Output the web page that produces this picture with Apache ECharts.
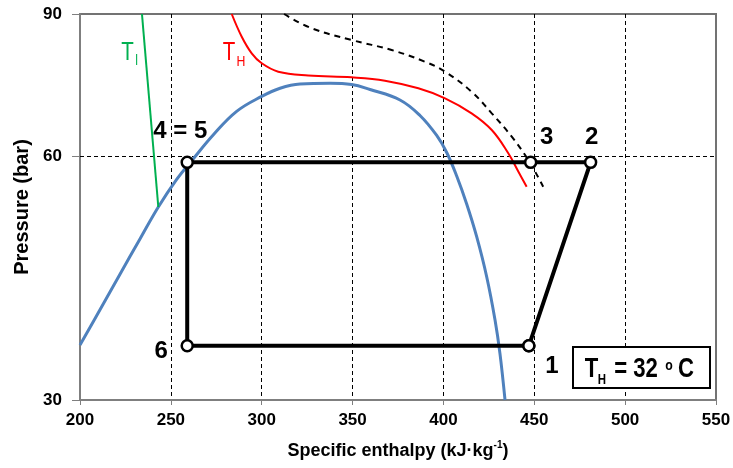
<!DOCTYPE html>
<html>
<head>
<meta charset="utf-8">
<script src="https://cdn.jsdelivr.net/npm/echarts@6/dist/echarts.min.js"></script>
<style>
html,body{margin:0;padding:0;background:#fff;}
#c{width:733px;height:468px;}
</style>
</head>
<body>
<div id="c"></div>
<script>
// ---- data ----
const xTicks = [200, 250, 300, 350, 400, 450, 500, 550];
const yTicks = [30, 60, 90];

// saturation dome (blue)
const domeH = [200, 211.0, 222.0, 233.0, 243.1, 253.2, 261.5, 273.4, 286.2, 300.0, 310.1, 321.1, 337.6, 349.5, 359.6, 376.1, 387.1, 396.3, 401.8, 407.3, 412.8, 418.3, 423.8, 428.4, 431.1, 433.9];
const domeP = [35.08, 38.78, 42.92, 47.44, 51.96, 56.21, 59.28, 63.82, 68.21, 71.18, 72.86, 73.74, 73.89, 73.64, 72.60, 70.46, 67.42, 63.69, 60.68, 56.75, 52.41, 47.75, 42.61, 37.67, 34.26, 30];

// T_H isotherm (red)
const redH = [283.5, 289.0, 294.5, 300.0, 309.1, 325.6, 349.5, 367.8, 386.2, 400.9, 415.5, 426.6, 435.7, 441.2, 445.8];
const redP = [90, 84.37, 80.47, 78.22, 76.37, 75.55, 75.15, 74.45, 72.84, 70.80, 67.84, 64.69, 60.54, 57.49, 55.05];

// dashed curve (black)
const dashH = [312.3, 327.5, 349.5, 371.5, 389.8, 400.9, 415.5, 426.6, 437.6, 446.7, 454.9];
const dashP = [90, 86.41, 83.58, 81.23, 78.57, 76.37, 72.14, 67.84, 63.47, 59.40, 55.05];

// T_l line (green)
const greenH = [234.1, 243.1];
const greenP = [90, 51.96];

// cycle 1 -> 2 -> 3 -> 4=5 -> 6 -> 1
const cycleH = [447, 481, 448, 259.0, 259.0, 447];
const cycleP = [35, 59, 59, 59, 35, 35];
const cycleNames = ['1', '2', '3', '4 = 5', '6', ''];

const gridLineP = 60;

// ---- styling ----
const SANS = "'Liberation Sans',Arial,sans-serif";
const labelOffsets = [[23, 21], [1, -25], [16, -25], [-7, -31], [-26, 6], [0, 0]];
const NX = 0.82; // horizontal condensing for annotation texts

const zip = (a, b) => a.map((v, i) => [v, b[i]]);

const chart = echarts.init(document.getElementById('c'), null, {renderer: 'canvas'});

function txt(x, y, text, font, fill, z) {
  return {type: 'text', x: x, y: y, scaleX: NX, z: z || 10,
    style: {text: text, font: font, fill: fill, align: 'center', verticalAlign: 'middle'}};
}

const option = {
  animation: false,
  backgroundColor: '#fff',
  grid: {left: 80, right: 17, top: 14, bottom: 68, show: true, borderColor: '#737373', borderWidth: 2, containLabel: false, outerBoundsMode: 'none'},
  xAxis: {
    type: 'value', min: xTicks[0], max: xTicks[xTicks.length - 1], interval: 50,
    name: '{a|Specific enthalpy (kJ\u00B7kg}{b|-1}{a|)}',
    nameLocation: 'middle', nameGap: 40,
    nameTextStyle: {rich: {
      a: {fontFamily: SANS, fontWeight: 'bold', fontSize: 18, color: '#000', lineHeight: 22},
      b: {fontFamily: SANS, fontWeight: 'bold', fontSize: 10, color: '#000', verticalAlign: 'top', lineHeight: 12}
    }},
    axisLine: {show: true, lineStyle: {color: '#7f7f7f', width: 2}},
    axisTick: {show: true, length: 5, lineStyle: {color: '#7f7f7f', width: 1}},
    axisLabel: {fontFamily: SANS, fontWeight: 'bold', fontSize: 17, color: '#000', margin: 12},
    splitLine: {show: true, showMinLine: false, showMaxLine: false, lineStyle: {color: '#000', width: 1, type: [4, 3]}}
  },
  yAxis: {
    type: 'log', logBase: 10, min: yTicks[0], max: yTicks[yTicks.length - 1],
    name: 'Pressure (bar)', nameLocation: 'middle', nameGap: 45, nameRotate: 90,
    nameTextStyle: {fontFamily: SANS, fontWeight: 'bold', fontSize: 20, color: '#000'},
    axisLine: {show: true, lineStyle: {color: '#7f7f7f', width: 2}},
    axisTick: {show: true, length: 8, customValues: yTicks, lineStyle: {color: '#7f7f7f', width: 1}},
    axisLabel: {fontFamily: SANS, fontWeight: 'bold', fontSize: 17, color: '#000', margin: 18, customValues: yTicks, formatter: v => String(Math.round(v))},
    splitLine: {show: false}
  },
  series: [
    {
      type: 'line', data: zip(domeH, domeP), smooth: 0.4, symbol: 'none',
      lineStyle: {color: '#4f81bd', width: 3}, z: 3
    },
    {
      type: 'line', data: zip(redH, redP), smooth: 0.4, symbol: 'none',
      lineStyle: {color: '#ff0000', width: 2}, z: 3
    },
    {
      type: 'line', data: zip(dashH, dashP), smooth: 0.4, symbol: 'none',
      lineStyle: {color: '#000', width: 2, type: [6, 5]}, z: 3
    },
    {
      type: 'line', data: zip(greenH, greenP), symbol: 'none',
      lineStyle: {color: '#00b050', width: 2}, z: 3
    },
    {
      type: 'line', z: 5,
      data: cycleH.map((h, i) => ({
        value: [h, cycleP[i]],
        label: {
          show: cycleNames[i] !== '', formatter: cycleNames[i], position: 'inside',
          offset: labelOffsets[i], fontFamily: SANS, fontWeight: 'bold', fontSize: 24, color: '#000'
        }
      })),
      symbol: 'circle', symbolSize: 11, showSymbol: true,
      itemStyle: {color: '#fff', borderColor: '#000', borderWidth: 2.5},
      lineStyle: {color: '#000', width: 4},
      markLine: {
        silent: true, symbol: 'none', label: {show: false},
        lineStyle: {color: '#000', width: 1, type: [4, 3]},
        data: [{yAxis: gridLineP}], z: 1
      }
    }
  ],
  graphic: [
    txt(127.5, 53, 'T', "25px " + SANS, '#00b050'),
    txt(136.5, 61, 'l', "15px " + SANS, '#00b050'),
    txt(229, 53, 'T', "25px " + SANS, '#ff0000'),
    txt(241, 62, 'H', "15px " + SANS, '#ff0000'),
    {type: 'rect', shape: {x: 573, y: 347, width: 137, height: 41}, style: {fill: '#fff', stroke: '#000', lineWidth: 2}, z: 10},
    txt(591.5, 370, 'T', "bold 27px " + SANS, '#000', 11),
    txt(602, 380, 'H', "bold 14px " + SANS, '#000', 11),
    txt(636, 370, '= 32', "bold 27px " + SANS, '#000', 11),
    txt(669, 366, 'o', "bold 15px " + SANS, '#000', 11),
    txt(686, 370, 'C', "bold 27px " + SANS, '#000', 11)
  ]
};
chart.setOption(option);
</script>
</body>
</html>
